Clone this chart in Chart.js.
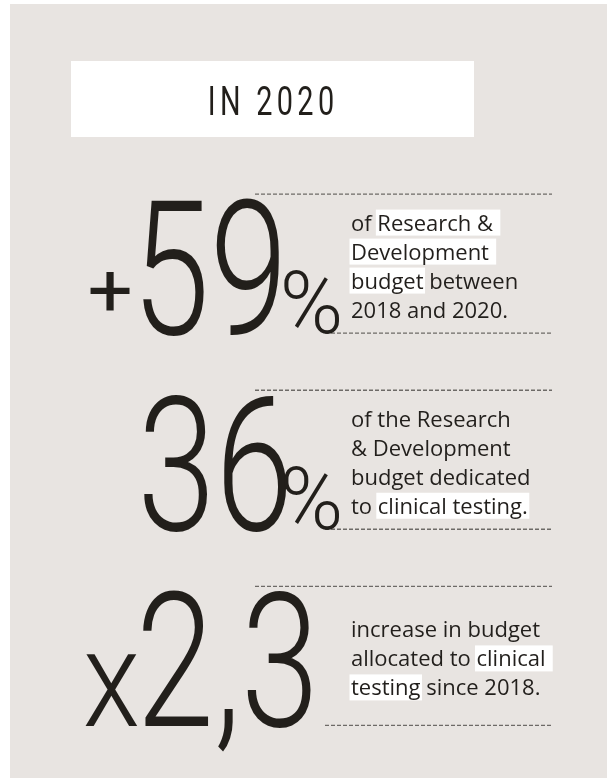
<!DOCTYPE html>
<html>
<head>
<meta charset="utf-8">
<script src="https://cdn.jsdelivr.net/npm/chart.js@4.4.1/dist/chart.umd.min.js"></script>
<style>
  html, body { margin: 0; padding: 0; background: #ffffff; }
  #wrap { width: 607px; height: 778px; }
</style>
</head>
<body>
<div id="wrap"><canvas id="chart-stats" width="607" height="778"></canvas></div>
<script>
// Key figures, 2020 - R&D budget infographic

const headline = 'IN 2020';
const blockLabels = ['R&D budget growth 2018-2020', 'Share of R&D for clinical testing', 'Clinical testing budget growth'];
const statValues = [59, 36, 2.3];
const statPrefix = ['+', '', 'x'];
const statNumber = ['59', '36', '2,3'];
const statSuffix = ['%', '%', ''];
// [brackets] mark the words that sit on a white highlight
const descLines = [
    ['of [Research & ]', '[Development ]', '[budget] between', '2018 and 2020.'],
    ['of the Research', '& Development', 'budget dedicated', 'to [clinical testing.]'],
    ['increase in budget', 'allocated to [clinical ]', '[testing] since 2018.']
];

const colors = {
    page: '#e8e4e1',
    ink: '#221f1b',
    body: '#221f1c',
    dash: '#6d6a67',
    white: '#ffffff'
};

const bigFont = '300 100px Roboto';
const bodyFont = '22px "Open Sans"';

function fitText(ctx, text, x0, x1, top, bottom) {
    const m = ctx.measureText(text);
    const w = m.actualBoundingBoxLeft + m.actualBoundingBoxRight;
    const h = m.actualBoundingBoxAscent + m.actualBoundingBoxDescent;
    ctx.save();
    ctx.translate(x0, top);
    ctx.scale((x1 - x0) / w, (bottom - top) / h);
    ctx.fillText(text, m.actualBoundingBoxLeft, m.actualBoundingBoxAscent);
    ctx.restore();
}

function dashLine(ctx, x0, x1, y) {
    ctx.save();
    ctx.strokeStyle = colors.dash;
    ctx.lineWidth = 1.3;
    ctx.setLineDash([4, 2]);
    ctx.beginPath();
    ctx.moveTo(x0, y);
    ctx.lineTo(x1, y);
    ctx.stroke();
    ctx.restore();
}

function splitMarks(line) {
    const parts = [];
    line.split(/(\[[^\]]*\])/).forEach(p => {
        if (!p) return;
        if (p[0] === '[') parts.push({ text: p.slice(1, -1), hl: true });
        else parts.push({ text: p, hl: false });
    });
    return parts;
}

const infographic = {
    id: 'infographic',
    beforeDraw(chart) {
        const ctx = chart.ctx;
        ctx.save();
        ctx.fillStyle = colors.page;
        ctx.fillRect(10, 4, chart.width - 10, chart.height - 4);

        // headline box
        ctx.fillStyle = colors.white;
        ctx.fillRect(71, 61, 403, 76);
        ctx.fillStyle = colors.ink;
        ctx.font = '400 40px Roboto';
        ctx.letterSpacing = '6px';
        fitText(ctx, headline, 210, 333, 86, 115);
        ctx.letterSpacing = '0px';
        ctx.restore();
    },
    afterDraw(chart) {
        const ctx = chart.ctx;
        const yScale = chart.scales.y;

        // shared condensing of the big numbers, taken from the first one
        ctx.save();
        ctx.font = bigFont;
        const ref = ctx.measureText(statNumber[0]);
        const sx = 137 / (ref.actualBoundingBoxLeft + ref.actualBoundingBoxRight);
        const sy = 135 / ref.actualBoundingBoxAscent;
        ctx.restore();

        statNumber.forEach((num, i) => {
            const cy = yScale.getPixelForValue(i);
            const base = cy + 70;

            dashLine(ctx, 255, 552, cy - 69.5);
            dashLine(ctx, 325, 552, cy + 69.5);

            ctx.save();
            ctx.fillStyle = colors.ink;
            ctx.font = bigFont;
            const m = ctx.measureText(num);
            ctx.translate(143, base);
            ctx.scale(sx, sy);
            ctx.fillText(num, m.actualBoundingBoxLeft, 0);
            ctx.restore();

            ctx.save();
            ctx.fillStyle = colors.ink;
            if (statPrefix[i] === '+') {
                ctx.font = '400 100px Roboto';
                fitText(ctx, '+', 90, 130, cy + 8.5, cy + 47.5);
            }
            if (statPrefix[i] === 'x') {
                ctx.font = bigFont;
                fitText(ctx, 'x', 85, 138, cy - 3, base);
            }
            if (statSuffix[i]) {
                ctx.font = bigFont;
                fitText(ctx, statSuffix[i], 284, 339, cy + 5, base);
            }
            ctx.restore();

            // description
            const lines = descLines[i];
            const lh = 29;
            const first = cy + 10.5 - (lines.length - 1) * lh / 2;
            ctx.save();
            ctx.font = bodyFont;
            ctx.textBaseline = 'alphabetic';
            lines.forEach((line, k) => {
                const y = first + k * lh;
                let x = 351;
                splitMarks(line).forEach(part => {
                    const w = ctx.measureText(part.text).width;
                    if (part.hl) {
                        ctx.fillStyle = colors.white;
                        ctx.fillRect(x - 1.5, y - 21, w + 3, 26);
                    }
                    ctx.fillStyle = colors.body;
                    ctx.fillText(part.text, x, y);
                    x += w;
                });
            });
            ctx.restore();
        });
    }
};

new Chart(document.getElementById('chart-stats'), {
    type: 'bar',
    data: {
        labels: blockLabels,
        datasets: [{
            data: statValues,
            backgroundColor: 'rgba(0, 0, 0, 0)',
            borderWidth: 0
        }]
    },
    options: {
        indexAxis: 'y',
        responsive: false,
        animation: false,
        layout: { padding: { top: 165.5, bottom: 24, left: 0, right: 0 } },
        plugins: { legend: { display: false }, tooltip: { enabled: false }, title: { display: false } },
        scales: {
            x: { display: false },
            y: { display: false }
        }
    },
    plugins: [infographic]
});
</script>
</body>
</html>
